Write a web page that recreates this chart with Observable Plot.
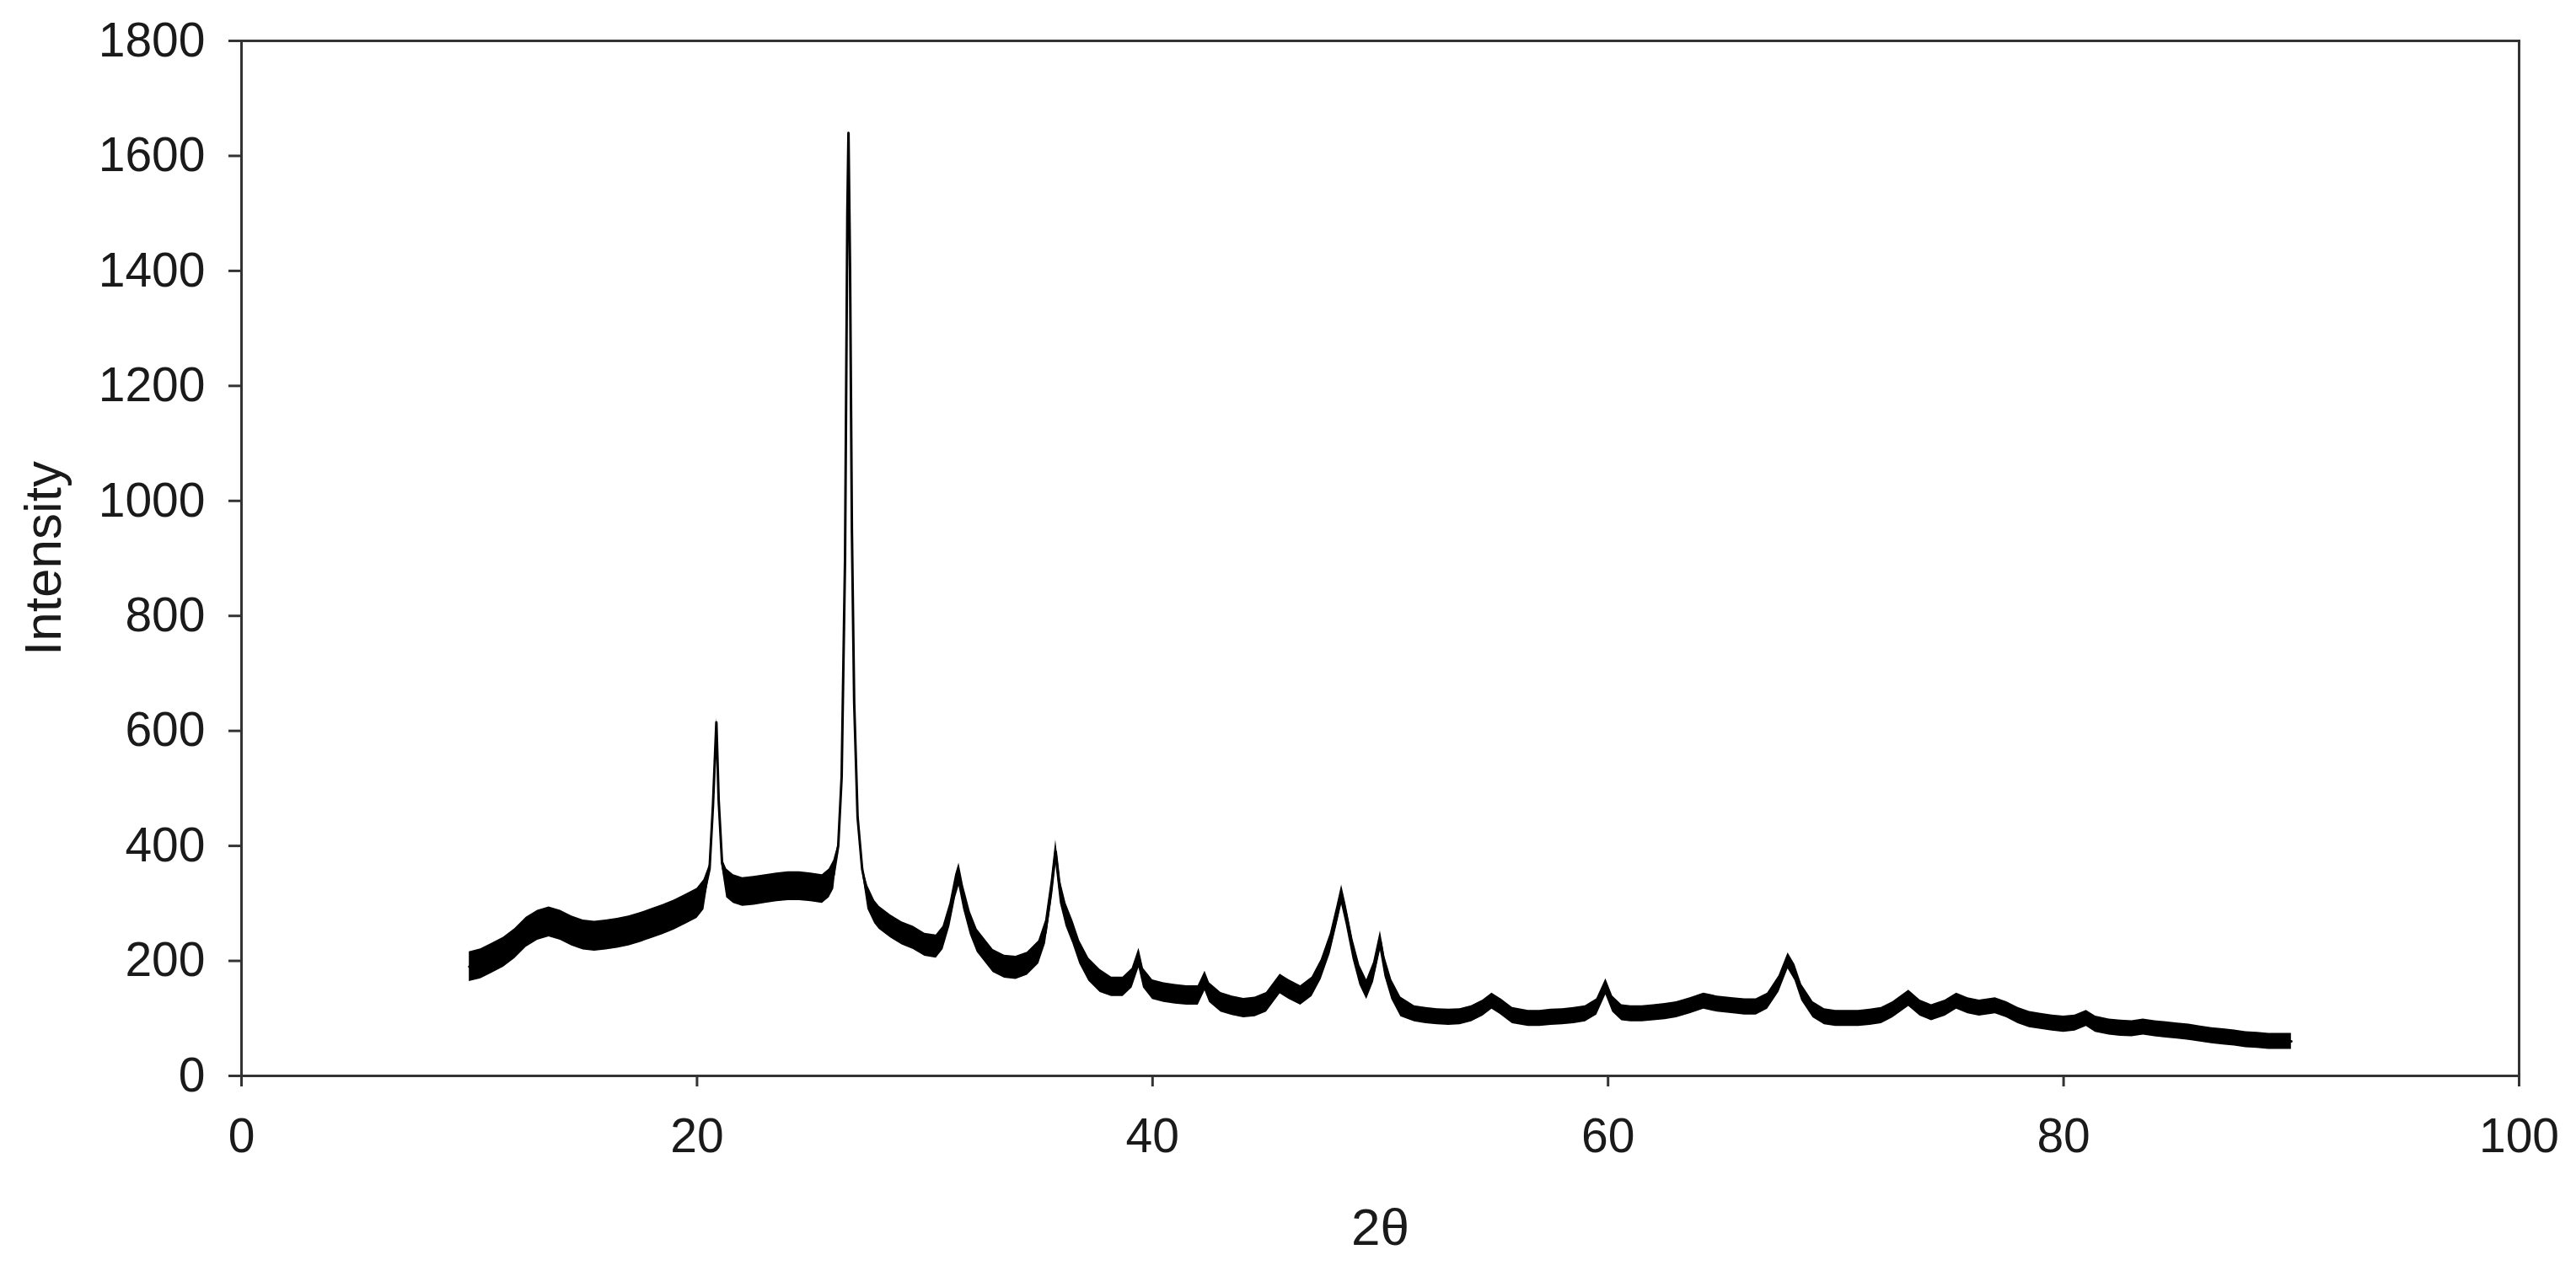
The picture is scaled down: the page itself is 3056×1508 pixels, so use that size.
<!DOCTYPE html>
<html>
<head>
<meta charset="utf-8">
<script src="https://cdn.jsdelivr.net/npm/d3@7"></script>
<script src="https://cdn.jsdelivr.net/npm/@observablehq/plot@0.6"></script>
<style>
  html, body { margin: 0; padding: 0; background: #fff; }
  #chart svg { display: block; }
</style>
</head>
<body>
<div id="chart"></div>
<script>
// 2θ positions (degrees)
const theta = [
  10.0, 10.5, 11.0, 11.5, 12.0, 12.5, 13.0, 13.5, 14.0, 14.5, 15.0, 15.5, 16.0, 16.5, 17.0, 17.5,
  18.0, 18.5, 19.0, 19.5, 20.0, 20.3, 20.55, 20.7, 20.85, 20.95, 21.1, 21.3, 21.6, 22.0, 22.5, 23.0,
  23.5, 24.0, 24.5, 25.0, 25.5, 25.8, 26.0, 26.2, 26.35, 26.5, 26.6, 26.65, 26.72, 26.8, 26.9, 27.05,
  27.25, 27.5, 27.8, 28.0, 28.5, 29.0, 29.5, 30.0, 30.5, 30.8, 31.1, 31.35, 31.5, 31.7, 32.0, 32.3,
  32.7, 33.0, 33.5, 34.0, 34.5, 35.0, 35.3, 35.55, 35.75, 35.95, 36.2, 36.5, 36.8, 37.2, 37.7, 38.2,
  38.7, 39.1, 39.4, 39.6, 40.0, 40.5, 41.0, 41.5, 42.0, 42.3, 42.5, 43.0, 43.5, 44.0, 44.5, 45.0,
  45.6, 46.0, 46.5, 47.0, 47.4, 47.8, 48.1, 48.3, 48.5, 48.8, 49.1, 49.4, 49.7, 50.0, 50.2, 50.5,
  50.9, 51.5, 52.0, 52.5, 53.0, 53.5, 54.0, 54.5, 54.9, 55.3, 55.8, 56.5, 57.0, 57.5, 58.0, 58.5,
  59.0, 59.5, 59.9, 60.2, 60.6, 61.0, 61.5, 62.0, 62.5, 63.0, 63.6, 64.2, 64.8, 65.5, 66.0, 66.5,
  67.0, 67.5, 67.9, 68.2, 68.5, 69.0, 69.5, 70.0, 70.5, 71.0, 71.5, 72.0, 72.5, 73.2, 73.7, 74.2,
  74.8, 75.3, 75.8, 76.3, 77.0, 77.5, 78.0, 78.5, 79.0, 79.5, 80.0, 80.5, 81.0, 81.4, 82.0, 82.5,
  83.0, 83.5, 84.0, 84.5, 85.0, 85.5, 86.0, 86.5, 87.0, 87.5, 88.0, 88.5, 89.0, 89.5, 90.0
];
// Intensity read at each 2θ (centre of the noisy trace)
const intensity = [
  190, 195, 205, 215, 230, 250, 262, 268, 262, 252, 245, 243, 245, 248, 252, 258,
  265, 272, 280, 290, 300, 315, 360, 470, 615, 480, 370, 335, 325, 320, 322, 325,
  328, 330, 330, 328, 325, 335, 350, 400, 520, 900, 1500, 1640, 1400, 950, 650, 450,
  360, 310, 285, 275, 260, 248, 240, 228, 225, 240, 280, 330, 350, 310, 265, 235,
  215, 200, 190, 188, 195, 215, 250, 320, 390, 320, 280, 250, 215, 185, 165, 155,
  155, 170, 205, 170, 150, 145, 142, 140, 140, 165, 145, 128, 122, 118, 120, 128,
  160, 150, 140, 155, 185, 230, 280, 315, 280, 220, 175, 150, 180, 235, 190, 150,
  120, 108, 105, 103, 102, 103, 108, 118, 130, 120, 105, 100, 100, 102, 103, 105,
  108, 120, 155, 125, 110, 108, 108, 110, 112, 115, 122, 130, 125, 122, 120, 120,
  130, 160, 200, 180, 145, 115, 103, 100, 100, 100, 102, 105, 115, 135, 118, 110,
  118, 130, 122, 118, 122, 115, 105, 98, 95, 92, 90, 92, 100, 90, 85, 83,
  82, 85, 82, 80, 78, 76, 73, 70, 68, 66, 63, 62, 60, 60, 60
];
// Half-thickness of the noise band, by 2θ region (start of region)
const noiseFrom = [10, 20.45, 21.2, 26.1, 27.3, 38, 51];
const noiseHalf = [26, 8, 25, 4, 20, 17, 14];

const xTicks = [0, 20, 40, 60, 80, 100];
const yTicks = [0, 200, 400, 600, 800, 1000, 1200, 1400, 1600, 1800];

const half = t => { let h = noiseHalf[0]; noiseFrom.forEach((s, i) => { if (t >= s) h = noiseHalf[i]; }); return h; };
const data = theta.map((t, i) => ({ t, v: intensity[i], lo: intensity[i] - half(t), hi: intensity[i] + half(t) }));

const font = "'Liberation Sans', Arial, Helvetica, sans-serif";

const chart = Plot.plot({
  width: 3056,
  height: 1508,
  marginLeft: 286,
  marginRight: 68,
  marginTop: 48,
  marginBottom: 232,
  style: { fontFamily: font, background: "#fff", color: "#1a1a1a" },
  x: { domain: [0, 100] },
  y: { domain: [0, 1800] },
  marks: [
    Plot.areaY(data, { x: "t", y1: "lo", y2: "hi", fill: "#000", curve: "linear" }),
    Plot.line(data, { x: "t", y: "v", stroke: "#000", strokeWidth: 3 }),
    Plot.frame({ stroke: "#333", strokeWidth: 3 }),
    Plot.axisX({ ticks: xTicks, tickSize: 13, tickPadding: 37, fontSize: 57, strokeWidth: 3, stroke: "#333", label: null, tickFormat: d => String(d) }),
    Plot.axisY({ ticks: yTicks, tickSize: 15, tickPadding: 28, fontSize: 57, strokeWidth: 3, stroke: "#333", label: null, tickFormat: d => String(d) }),
    Plot.text(["2θ"], { frameAnchor: "bottom", dy: 181, fontSize: 62, fill: "#1a1a1a", textAnchor: "middle", lineAnchor: "middle" }),
    Plot.text(["Intensity"], { frameAnchor: "left", dx: -234, rotate: -90, fontSize: 62, fill: "#1a1a1a", textAnchor: "middle", lineAnchor: "middle" })
  ]
});
document.getElementById("chart").appendChild(chart);
</script>
</body>
</html>
